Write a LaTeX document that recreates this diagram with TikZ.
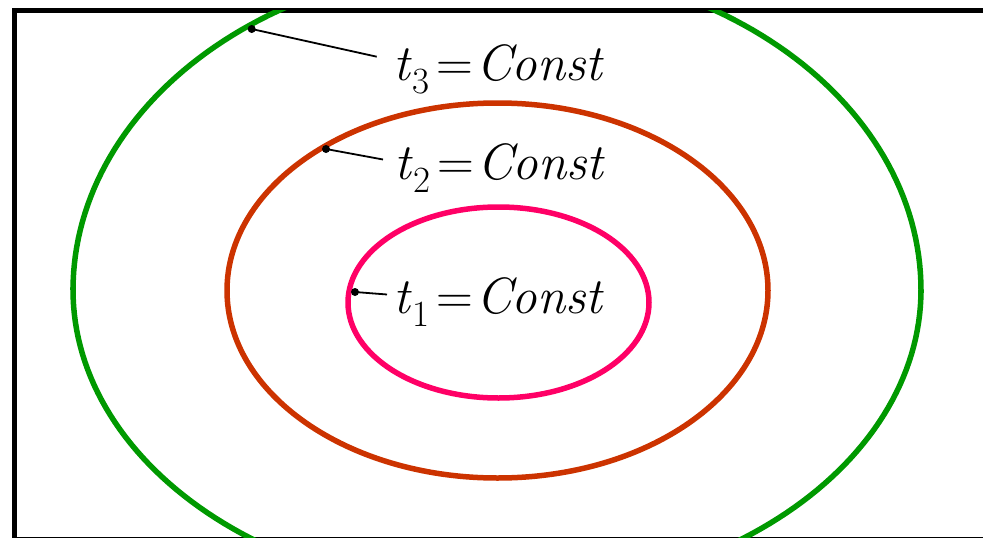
\documentclass[tikz,border=0pt]{standalone}
\definecolor{greenc}{HTML}{009900}
\definecolor{orangec}{HTML}{CC3300}
\definecolor{pinkc}{HTML}{FF0066}
\newcommand\tlabel[1]{\textit{t}\kern0.5pt\raisebox{-13pt}{\fontsize{37}{37}\selectfont\upshape #1}\kern7pt\upshape=\kern3pt\textit{Const}}
\begin{document}
\begin{tikzpicture}[x=1pt,y=-1pt,
  curve/.style={line width=5.5pt},
  leader/.style={line width=1.8pt},
  tick/.style={circle,fill=black,inner sep=0pt,minimum size=8pt},
  lbl/.style={anchor=base west,inner sep=0pt,font=\fontsize{51}{56}\selectfont}]
\useasboundingbox (0,0) rectangle (983,538);
% frame
\draw[line width=5pt] (14.2,538) -- (14.2,10.8) -- (983,10.8);
\draw[line width=1pt] (14,537.5) -- (983,537.5);
% outer green curve, clipped by the frame
\begin{scope}
\clip (14,10) rectangle (983,537);
\draw[curve,greenc] plot[domain=0:180,samples=120,variable=\a] ({497+424*cos(\a)},{290-326*sin(\a)})
  -- plot[domain=180:360,samples=120,variable=\a] ({497+424*cos(\a)},{290-305*sin(\a)}) -- cycle;
\end{scope}
% ellipses
\draw[curve,orangec] (497.5,290.5) ellipse[x radius=270.5,y radius=187.5];
\draw[curve,pinkc] (498.5,302.5) ellipse[x radius=150.5,y radius=95.5];
% labels
\node[lbl] (L3) at (393,80) {\tlabel{3}};
\node[lbl] (L2) at (394,179) {\tlabel{2}};
\node[lbl] (L1) at (393,313) {\tlabel{1}};
\node[tick] (d3) at (251.7,29) {};
\node[tick] (d2) at (326,149) {};
\node[tick] (d1) at (355,292) {};
\coordinate (e3) at (376.7,56.7);
\coordinate (e2) at (383,159.5);
\coordinate (e1) at (387,294.5);
\draw[leader] (d3.center) -- (e3);
\draw[leader] (d2.center) -- (e2);
\draw[leader] (d1.center) -- (e1);
\end{tikzpicture}
\end{document}
